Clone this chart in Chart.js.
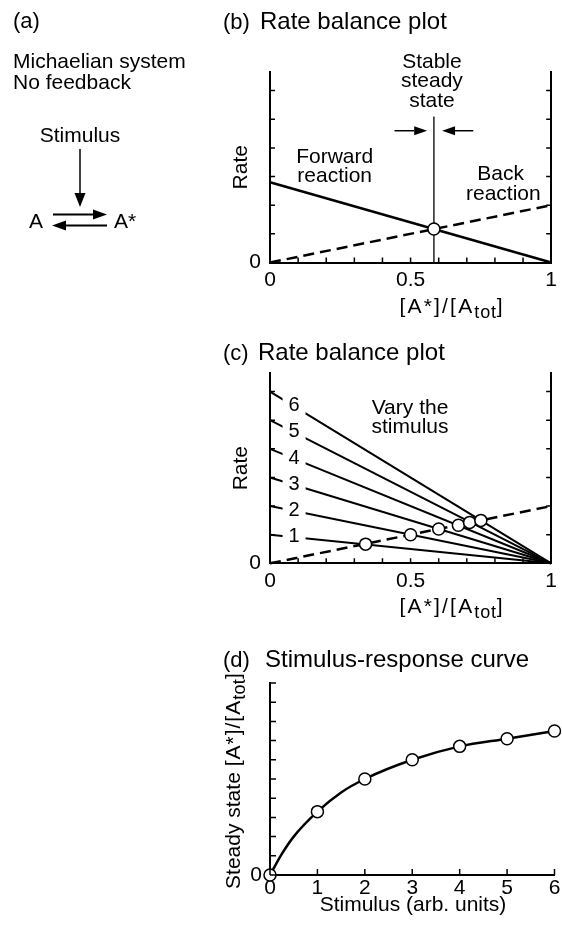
<!DOCTYPE html>
<html>
<head>
<meta charset="utf-8">
<title>Michaelian system: rate balance and stimulus-response</title>
<script src="https://cdn.jsdelivr.net/npm/chart.js@4.4.1/dist/chart.umd.min.js"></script>
<style>
  html, body { margin: 0; background: #fff; }
  #page { position: relative; width: 562px; height: 928px; overflow: hidden; }
  #page canvas { position: absolute; left: 0; }
</style>
</head>
<body>
<div id="page">
  <canvas id="panelB" width="562" height="330" style="top:0"></canvas>
  <canvas id="panelC" width="562" height="302" style="top:330px"></canvas>
  <canvas id="panelD" width="562" height="296" style="top:632px"></canvas>
</div>
<script>
const FONT = '"Liberation Sans", Arial, Helvetica, sans-serif';
Chart.defaults.font.family = FONT;
Chart.defaults.color = '#000';

// ---- values ----
const fracEnds = [0, 1];                 // [A*]/[Atot] at both ends of each rate line
const fracTicks = [0, 0.5, 1];           // labelled ticks on the [A*]/[Atot] axis
const rateTop = 6.65;                    // top of the Rate axis

// (b) a single stimulus level
const fwdB = [2.8, 0];                   // forward rate at [A*]/[Atot] = 0 and 1
const backRate = [0, 2];                 // back reaction rate at 0 and 1
const ssB = [0.583, 1.17];               // stable steady state
const markerTop = 5.1;                   // top of the steady state marker line

// (c) six stimulus levels
const levels = ['1', '2', '3', '4', '5', '6'];
const fwdStart = [1, 2, 3, 4, 5, 6];     // forward rate at [A*]/[Atot] = 0
const ssX = [0.34, 0.5, 0.6, 0.67, 0.71, 0.75];
const ssY = [0.67, 1.0, 1.2, 1.33, 1.43, 1.5];

// (d) stimulus-response: marked points, plus the drawn curve read at a few more places
const stim = [0, 1, 2, 3, 4, 5, 6];
const resp = [0, 0.33, 0.5, 0.6, 0.67, 0.71, 0.75];
const curveX = [0, 0.25, 0.5, 1, 1.5, 2, 3, 4, 5, 6];
const curveY = [0, 0.11, 0.2, 0.33, 0.43, 0.5, 0.6, 0.67, 0.71, 0.75];

// ---- small drawing helpers ----
function write(ctx, s, x, y, size, align) {
  ctx.save();
  ctx.font = size + 'px ' + FONT;
  ctx.fillStyle = '#000';
  ctx.textAlign = align || 'left';
  ctx.textBaseline = 'alphabetic';
  ctx.fillText(s, x, y);
  ctx.restore();
}

// parts: [text, isSubscript, extraLetterSpacing]
function partWidth(ctx, t, sp) {
  return ctx.measureText(t).width + (sp || 0) * t.length;
}
function writeRich(ctx, parts, x, y, size, align) {
  const sub = Math.round(size * 0.86);
  ctx.save();
  ctx.fillStyle = '#000';
  ctx.textAlign = 'left';
  ctx.textBaseline = 'alphabetic';
  let w = 0;
  parts.forEach(([t, s, sp]) => { ctx.font = (s ? sub : size) + 'px ' + FONT; w += partWidth(ctx, t, sp); });
  let cx = align === 'center' ? x - w / 2 : x;
  parts.forEach(([t, s, sp]) => {
    ctx.font = (s ? sub : size) + 'px ' + FONT;
    for (const ch of t) {
      ctx.fillText(ch, cx, y + (s ? 5 : 0));
      cx += ctx.measureText(ch).width + (sp || 0);
    }
  });
  ctx.restore();
}

// rotated -90deg, centred on y, baseline at x
function writeUp(ctx, parts, x, y, size) {
  ctx.save();
  ctx.translate(x, y);
  ctx.rotate(-Math.PI / 2);
  writeRich(ctx, parts, 0, 0, size, 'center');
  ctx.restore();
}

function arrow(ctx, x1, y1, x2, y2, head, half, lw) {
  const a = Math.atan2(y2 - y1, x2 - x1);
  const bx = x2 - head * Math.cos(a), by = y2 - head * Math.sin(a);
  ctx.save();
  ctx.strokeStyle = '#000';
  ctx.fillStyle = '#000';
  ctx.lineWidth = lw;
  ctx.beginPath();
  ctx.moveTo(x1, y1);
  ctx.lineTo(bx, by);
  ctx.stroke();
  ctx.beginPath();
  ctx.moveTo(x2, y2);
  ctx.lineTo(bx + half * Math.sin(a), by - half * Math.cos(a));
  ctx.lineTo(bx - half * Math.sin(a), by + half * Math.cos(a));
  ctx.closePath();
  ctx.fill();
  ctx.restore();
}

// tick marks pointing into the plot
function inwardTicks(chart, len) {
  const { ctx, chartArea: a } = chart;
  ctx.save();
  ctx.strokeStyle = '#000';
  ctx.lineWidth = 1.5;
  ctx.beginPath();
  Object.values(chart.scales).forEach(s => {
    s.ticks.forEach(t => {
      const p = s.getPixelForValue(t.value);
      if (s.position === 'bottom') { ctx.moveTo(p, a.bottom); ctx.lineTo(p, a.bottom - len); }
      else if (s.position === 'left') { ctx.moveTo(a.left, p); ctx.lineTo(a.left + len, p); }
      else if (s.position === 'right') { ctx.moveTo(a.right, p); ctx.lineTo(a.right - len, p); }
    });
  });
  ctx.stroke();
  ctx.restore();
}

const fracLabel = [['[A*]/[A', false, 2.2], ['tot', true, 0.8], [']', false]];

// ---- shared axis builders ----
function fracAxis(h) {
  return {
    type: 'linear', position: 'bottom', min: 0, max: 1,
    ticks: {
      stepSize: 0.1, autoSkip: false, maxRotation: 0, padding: 5, font: { size: 21 },
      callback: v => { const r = Math.round(v * 10) / 10; return fracTicks.includes(r) ? String(r) : ''; }
    },
    grid: { drawOnChartArea: false, drawTicks: false },
    border: { color: '#000', width: 2 },
    afterFit: s => { s.height = h; }
  };
}
function rateAxis() {
  return {
    type: 'linear', position: 'left', min: 0, max: rateTop,
    ticks: { stepSize: 1, autoSkip: false, includeBounds: false, padding: 9, font: { size: 21 }, callback: v => v === 0 ? '0' : '' },
    grid: { drawOnChartArea: false, drawTicks: false },
    border: { color: '#000', width: 2 },
    afterFit: s => { s.width = 60; }
  };
}
function rateAxisRight() {
  return {
    type: 'linear', position: 'right', min: 0, max: rateTop,
    ticks: { stepSize: 1, autoSkip: false, includeBounds: false, display: false },
    grid: { drawOnChartArea: false, drawTicks: false },
    border: { color: '#000', width: 2 },
    afterFit: s => { s.width = 0; }
  };
}
const common = {
  responsive: false, animation: false, events: [], devicePixelRatio: 1,
  plugins: { legend: { display: false }, tooltip: { enabled: false } }
};
const openDot = { pointRadius: 6, pointBackgroundColor: '#fff', pointBorderColor: '#000', pointBorderWidth: 1.5, clip: false };
const line = (data, w, dash) => ({
  data, showLine: true, pointRadius: 0, borderColor: '#000', borderWidth: w, borderDash: dash || [], clip: false
});

// ---- (a) and (b) ----
new Chart(document.getElementById('panelB'), {
  type: 'scatter',
  data: {
    datasets: [
      Object.assign({ data: [{ x: ssB[0], y: ssB[1] }], showLine: false }, openDot),
      line([{ x: ssB[0], y: 0 }, { x: ssB[0], y: markerTop }], 1.3),
      line(fracEnds.map((x, i) => ({ x, y: fwdB[i] })), 2.5),
      line(fracEnds.map((x, i) => ({ x, y: backRate[i] })), 2.5, [11, 6])
    ]
  },
  options: Object.assign({}, common, {
    layout: { padding: { left: 210, right: 6, top: 72, bottom: 0 } },
    scales: { x: fracAxis(67.5), y: rateAxis(), y2: rateAxisRight() }
  }),
  plugins: [{
    id: 'panelB',
    afterDraw(chart) {
      const { ctx } = chart;
      const X = chart.scales.x, Y = chart.scales.y;
      // panel (a): the reaction scheme
      write(ctx, '(a)', 13, 28, 22);
      write(ctx, 'Michaelian system', 13, 68, 21);
      write(ctx, 'No feedback', 13, 89, 21);
      write(ctx, 'Stimulus', 80, 142, 21, 'center');
      arrow(ctx, 80, 149, 80, 207, 14, 5.5, 1.5);
      write(ctx, 'A', 36, 228, 21, 'center');
      write(ctx, 'A*', 114, 228, 21);
      arrow(ctx, 53, 214.5, 107, 214.5, 14, 5, 1.8);
      arrow(ctx, 107, 225.5, 52, 225.5, 14, 5, 1.8);
      // panel (b)
      write(ctx, '(b)', 223, 29, 22);
      write(ctx, 'Rate balance plot', 260, 29, 24);
      inwardTicks(chart, 5);
      writeUp(ctx, [['Rate', false]], 247, (chart.chartArea.top + chart.chartArea.bottom) / 2, 21);
      writeRich(ctx, fracLabel, 451, 313, 21, 'center');
      const sx = X.getPixelForValue(ssB[0]);
      write(ctx, 'Stable', sx - 2, 68, 21, 'center');
      write(ctx, 'steady', sx - 2, 87, 21, 'center');
      write(ctx, 'state', sx - 2, 106.5, 21, 'center');
      const ay = Y.getPixelForValue(4.6);
      arrow(ctx, X.getPixelForValue(0.443), ay, X.getPixelForValue(0.559), ay, 13, 4.5, 1.5);
      arrow(ctx, X.getPixelForValue(0.723), ay, X.getPixelForValue(0.612), ay, 13, 4.5, 1.5);
      write(ctx, 'Forward', X.getPixelForValue(0.23), 163, 21, 'center');
      write(ctx, 'reaction', X.getPixelForValue(0.23), 182, 21, 'center');
      write(ctx, 'Back', X.getPixelForValue(0.82), 180, 21, 'center');
      write(ctx, 'reaction', X.getPixelForValue(0.83), 200, 21, 'center');
    }
  }]
});

// ---- (c) ----
new Chart(document.getElementById('panelC'), {
  type: 'scatter',
  data: {
    datasets: [
      Object.assign({ data: ssX.map((x, i) => ({ x, y: ssY[i] })), showLine: false }, openDot),
      ...fwdStart.map(r => line([{ x: fracEnds[0], y: r }, { x: fracEnds[1], y: 0 }], 2)),
      line(fracEnds.map((x, i) => ({ x, y: backRate[i] })), 2.5, [11, 6])
    ]
  },
  options: Object.assign({}, common, {
    layout: { padding: { left: 210, right: 6, top: 43, bottom: 0 } },
    scales: { x: fracAxis(68.7), y: rateAxis(), y2: rateAxisRight() }
  }),
  plugins: [{
    id: 'panelC',
    afterDraw(chart) {
      const { ctx } = chart;
      const X = chart.scales.x, Y = chart.scales.y;
      write(ctx, '(c)', 223, 30, 22);
      write(ctx, 'Rate balance plot', 258, 30, 24);
      inwardTicks(chart, 5);
      writeUp(ctx, [['Rate', false]], 247, (chart.chartArea.top + chart.chartArea.bottom) / 2, 21);
      writeRich(ctx, fracLabel, 451, 283, 21, 'center');
      write(ctx, 'Vary the', 410, 84, 21, 'center');
      write(ctx, 'stimulus', 410, 103, 21, 'center');
      // level numbers sit in gaps cut into each forward line
      const lx = 0.0857;
      fwdStart.forEach((r, i) => {
        const px = X.getPixelForValue(lx);
        const py = Y.getPixelForValue(r * (1 - lx)) - 2;
        ctx.save();
        ctx.fillStyle = '#fff';
        ctx.fillRect(px - 11.5, py - 10, 23, 20);
        ctx.restore();
        write(ctx, levels[i], px, py + 7, 20, 'center');
      });
    }
  }]
});

// ---- (d) ----
new Chart(document.getElementById('panelD'), {
  type: 'scatter',
  data: {
    datasets: [
      Object.assign({ data: stim.map((x, i) => ({ x, y: resp[i] })), showLine: false }, openDot),
      Object.assign(line(curveX.map((x, i) => ({ x, y: curveY[i] })), 2.5), { cubicInterpolationMode: 'monotone' })
    ]
  },
  options: Object.assign({}, common, {
    layout: { padding: { left: 210, right: 5.3, top: 51, bottom: 0 } },
    scales: {
      x: {
        type: 'linear', position: 'bottom', min: 0, max: 6,
        ticks: { stepSize: 1, autoSkip: false, maxRotation: 0, padding: 1, font: { size: 21 }, callback: v => String(v) },
        grid: { drawOnChartArea: false, drawTicks: false },
        border: { color: '#000', width: 2 },
        afterFit: s => { s.height = 53; }
      },
      y: {
        type: 'linear', position: 'left', min: 0, max: 1,
        ticks: { stepSize: 0.1, autoSkip: false, padding: 8, font: { size: 21 }, callback: v => v === 0 ? '0' : '' },
        grid: { drawOnChartArea: false, drawTicks: false },
        border: { color: '#000', width: 2 },
        afterFit: s => { s.width = 60; }
      }
    }
  }),
  plugins: [{
    id: 'panelD',
    afterDraw(chart) {
      const { ctx } = chart;
      inwardTicks(chart, 6);
      write(ctx, '(d)', 223, 35, 22);
      write(ctx, 'Stimulus-response curve', 265, 35, 24);
      writeUp(ctx, [['Steady state ', false], ['[A*]/[A', false, 1], ['tot', true, 0.3], [']', false]], 240, 149, 21);
      write(ctx, 'Stimulus (arb. units)', 413, 279, 21, 'center');
    }
  }]
});
</script>
</body>
</html>
